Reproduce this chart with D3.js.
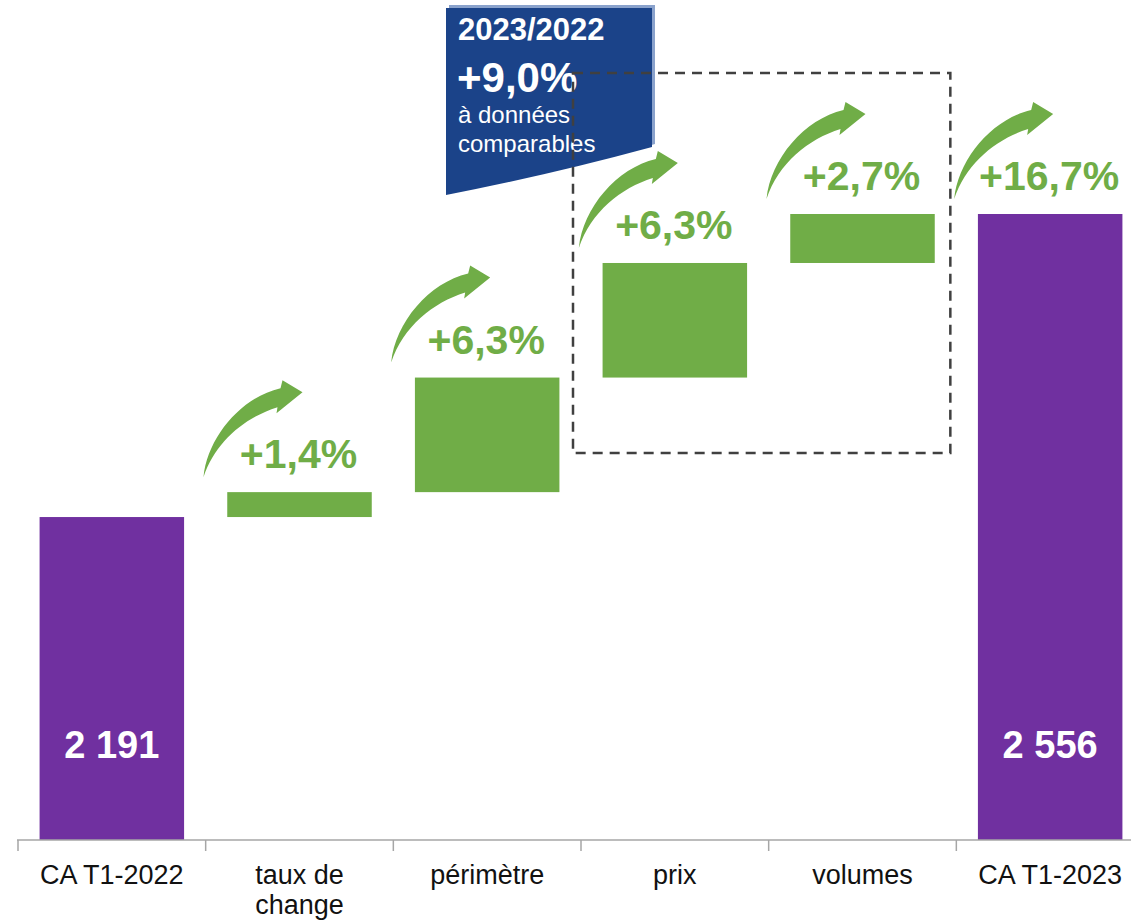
<!DOCTYPE html>
<html><head><meta charset="utf-8">
<script src="https://cdn.jsdelivr.net/npm/d3@7/dist/d3.min.js"></script>
<style>html,body{margin:0;padding:0;background:#fff;}svg{display:block;font-family:"Liberation Sans",Arial,sans-serif;}</style>
</head><body>
<svg id="c" width="1131" height="921"></svg>
<script>
const categories = ["CA T1-2022", "taux de change", "périmètre", "prix", "volumes", "CA T1-2023"];
const categoryLines = [["CA T1-2022"], ["taux de", "change"], ["périmètre"], ["prix"], ["volumes"], ["CA T1-2023"]];
const kinds = ["total", "delta", "delta", "delta", "delta", "total"];
const values = [2191, 30, 138, 138, 59, 2556];
const valueLabels = ["2 191", "", "", "", "", "2 556"];
const pctLabels = ["", "+1,4%", "+6,3%", "+6,3%", "+2,7%", "+16,7%"];
const boxTitle = "2023/2022";
const boxValue = "+9,0%";
const boxLines = ["à données", "comparables"];
const yMin = 1802;

const GREEN = "#70ad47", PURPLE = "#7030a0", BLUE = "#1b4389";
const svg = d3.select("#c");

const x = d3.scaleBand().domain(categories).range([18, 1144]).paddingInner(0.23).paddingOuter(0.115);
const y = d3.scaleLinear().domain([yMin, 2556]).range([840, 214]);

let cum = 0;
const bars = categories.map((c, i) => {
  let y0, y1;
  if (kinds[i] === "total") { y0 = yMin; y1 = values[i]; cum = values[i]; }
  else { y0 = cum; y1 = cum + values[i]; cum = y1; }
  return {c, i, y0, y1, kind: kinds[i]};
});

// blue box
const bx0 = 446, bx1 = 652, by0 = 8, byR = 147, byL = 195;
svg.append("path")
  .attr("d", `M${bx0+3},${by0-3} L${bx1+3},${by0-3} L${bx1+3},${byR-3} Q${(bx0+bx1)/2+3},${(byR+byL)/2+4} ${bx0+3},${byL-3} Z`)
  .attr("fill", "#8aa2cc");
svg.append("path")
  .attr("d", `M${bx0},${by0} L${bx1},${by0} L${bx1},${byR} Q${(bx0+bx1)/2},${(byR+byL)/2+4} ${bx0},${byL} Z`)
  .attr("fill", BLUE);
svg.append("text").attr("x", 458).attr("y", 40).attr("fill", "#fff")
  .attr("font-weight", "bold").attr("font-size", 31).text(boxTitle);
svg.append("text").attr("x", 457).attr("y", 92).attr("fill", "#fff")
  .attr("font-weight", "bold").attr("font-size", 42).text(boxValue);
boxLines.forEach((t, k) => svg.append("text").attr("x", 458).attr("y", 123 + k * 29)
  .attr("fill", "#fff").attr("font-size", 24).text(t));

// dashed highlight rect
const dx0 = x("prix") - x.step() * x.paddingInner() / 2 - 8;
const dx1 = x("volumes") + x.bandwidth() + x.step() * x.paddingInner() / 2 - 6;
svg.append("rect").attr("x", dx0).attr("y", 73).attr("width", dx1 - dx0).attr("height", 380)
  .attr("fill", "none").attr("stroke", "#404040").attr("stroke-width", 2.5)
  .attr("stroke-dasharray", "10,7");

// bars
svg.selectAll("rect.bar").data(bars).enter().append("rect").attr("class", "bar")
  .attr("x", d => x(d.c)).attr("width", x.bandwidth())
  .attr("y", d => y(d.y1)).attr("height", d => y(d.y0) - y(d.y1))
  .attr("fill", d => d.kind === "total" ? PURPLE : GREEN);

svg.selectAll("text.val").data(bars.filter(d => valueLabels[d.i])).enter().append("text")
  .attr("x", d => x(d.c) + x.bandwidth() / 2).attr("y", 758)
  .attr("text-anchor", "middle").attr("fill", "#fff").attr("font-weight", "bold")
  .attr("font-size", 38).text(d => valueLabels[d.i]);

const pb = bars.filter(d => pctLabels[d.i]);
svg.selectAll("text.pct").data(pb).enter().append("text")
  .attr("x", d => x(d.c) + x.bandwidth() / 2 - 1).attr("y", d => y(d.y1) - 24)
  .attr("text-anchor", "middle").attr("fill", GREEN).attr("font-weight", "bold")
  .attr("font-size", 41).text(d => pctLabels[d.i]);
const arrowPath = "M0,0 C4,-40 38,-80 77,-89 L79,-97 L99,-85 L73,-64 L74,-70 C42,-60 12,-36 0,0 Z";
svg.selectAll("path.arrow").data(pb).enter().append("path")
  .attr("d", arrowPath).attr("fill", GREEN)
  .attr("transform", d => `translate(${x(d.c) + x.bandwidth() / 2 - 96},${y(d.y1) - 15})`);

// axis
const axisY = 840;
svg.append("line").attr("x1", 17).attr("x2", 1131).attr("y1", axisY).attr("y2", axisY)
  .attr("stroke", "#a6a6a6").attr("stroke-width", 1.5);
const tickXs = categories.map(c => x(c) - x.step() * x.paddingInner() / 2);
svg.selectAll("line.tick").data(tickXs).enter().append("line")
  .attr("x1", d => d).attr("x2", d => d).attr("y1", axisY).attr("y2", axisY + 11)
  .attr("stroke", "#a6a6a6").attr("stroke-width", 1.5);
categories.forEach((c, i) => {
  const t = svg.append("text").attr("x", x(c) + x.bandwidth() / 2).attr("y", 884)
    .attr("text-anchor", "middle").attr("fill", "#111").attr("font-size", 27);
  categoryLines[i].forEach((ln, k) => t.append("tspan").attr("x", x(c) + x.bandwidth() / 2)
    .attr("dy", k === 0 ? 0 : 30).text(ln));
});
</script>
</body></html>
